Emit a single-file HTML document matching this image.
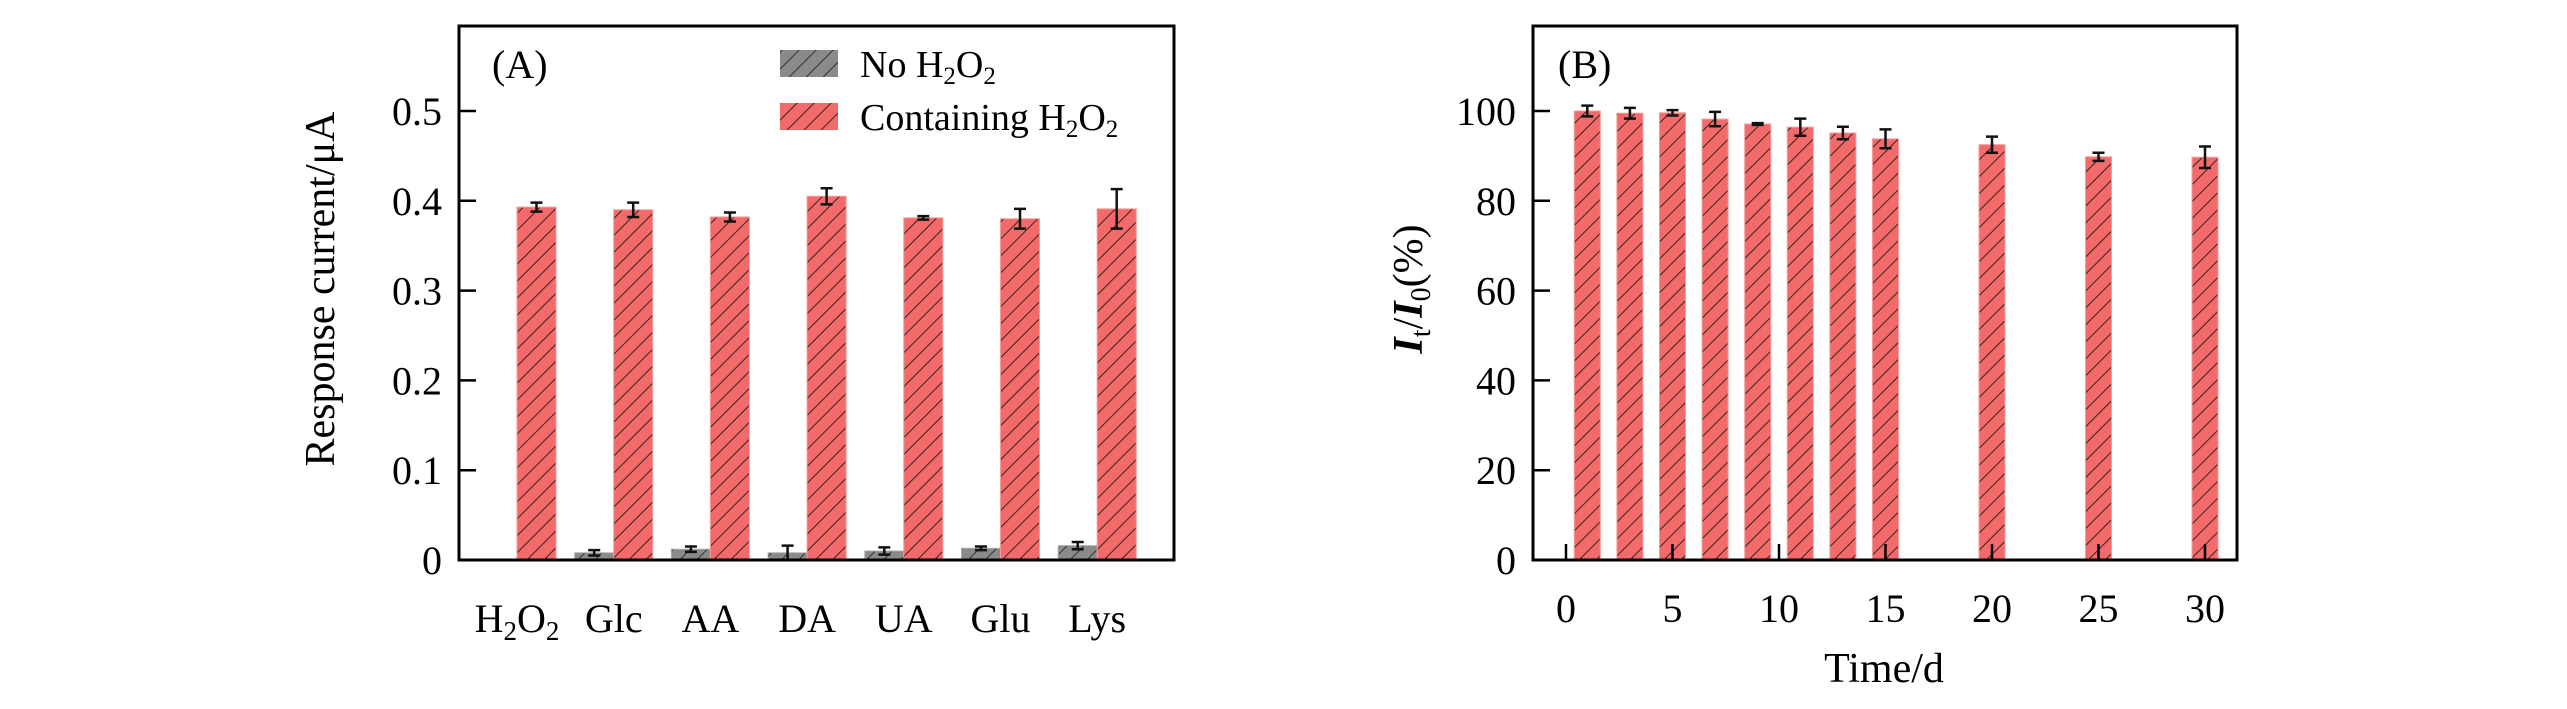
<!DOCTYPE html>
<html><head><meta charset="utf-8"><style>
html,body{margin:0;padding:0;background:#fff;}
svg{display:block;font-family:"Liberation Serif",serif;}
</style></head><body>
<svg id="fig" width="2567" height="709" viewBox="0 0 2567 709" xmlns="http://www.w3.org/2000/svg">
<defs>
<pattern id="hatchR" patternUnits="userSpaceOnUse" width="12" height="12" patternTransform="rotate(45)">
<rect width="12" height="12" fill="#f26a6a"/><line x1="0" y1="0" x2="0" y2="12" stroke="#3a2020" stroke-width="2"/></pattern>
<pattern id="hatchG" patternUnits="userSpaceOnUse" width="12" height="12" patternTransform="rotate(45)">
<rect width="12" height="12" fill="#8a8a8a"/><line x1="0" y1="0" x2="0" y2="12" stroke="#333" stroke-width="2"/></pattern>
</defs>
<g id="pa"></g>
<g id="pb"></g>
</svg>
<script>
const catsA = ["H2O2","Glc","AA","DA","UA","Glu","Lys"];
const redA = [0.393,0.390,0.382,0.405,0.381,0.380,0.391];
const redErrA = [0.005,0.008,0.005,0.009,0.002,0.011,0.022];
const grayA = [0,0.008,0.012,0.008,0.010,0.013,0.016];
const grayErrA = [0,0.003,0.003,0.008,0.004,0.002,0.004];
const ticksA = [0,0.1,0.2,0.3,0.4,0.5];
const tickLabelsA = ["0","0.1","0.2","0.3","0.4","0.5"];
const daysB = [1,3,5,7,9,11,13,15,20,25,30];
const valsB = [100,99.5,99.6,98.2,97.1,96.4,95.1,93.8,92.5,89.8,89.7];
const errB = [1.2,1.2,0.6,1.6,0.2,1.9,1.4,2.1,1.8,0.9,2.4];
const ticksBy = [0,20,40,60,80,100];
const ticksBx = [0,5,10,15,20,25,30];

const NS="http://www.w3.org/2000/svg";
function mk(p,tag,attrs,txt){const e=document.createElementNS(NS,tag);for(const k in attrs)e.setAttribute(k,attrs[k]);if(txt!==undefined)e.textContent=txt;p.appendChild(e);return e;}
function errbar(g,x,y1,y2){
  const e=mk(g,"path",{d:`M${x},${y1}V${y2}M${x-6},${y1}H${x+6}M${x-6},${y2}H${x+6}`,stroke:"#111","stroke-width":2.5,fill:"none"});
  
  
}
// Panel A
const pa=document.getElementById('pa');
const yA=v=>560-v*898;
const gx=i=>478+96.7*i;
const bw=39;
for(let i=0;i<catsA.length;i++){
  if(grayA[i]>0){
    const r=mk(pa,"rect",{x:gx(i),y:yA(grayA[i]),width:bw,height:560-yA(grayA[i]),fill:"url(#hatchG)",stroke:"#aaa","stroke-width":1});
    
    
    errbar(pa,gx(i)+bw/2,yA(grayA[i]+grayErrA[i]),yA(Math.max(0,grayA[i]-grayErrA[i])));
  }
  const r=mk(pa,"rect",{x:gx(i)+bw,y:yA(redA[i]),width:bw,height:560-yA(redA[i]),fill:"url(#hatchR)",stroke:"#f59a9a","stroke-width":1});
  
  
  errbar(pa,gx(i)+bw*1.5,yA(redA[i]+redErrA[i]),yA(redA[i]-redErrA[i]));
  const t=mk(pa,"text",{x:gx(i)+bw,y:632,"font-size":40,"text-anchor":"middle"});
  
  
  if(catsA[i]==="H2O2"){t.innerHTML='H<tspan font-size="27" dy="8">2</tspan><tspan dy="-8">O</tspan><tspan font-size="27" dy="8">2</tspan>';}
  else t.textContent=catsA[i];
}
ticksA.forEach((v,i)=>{
  const l=mk(pa,"line",{x1:459,x2:476,y1:yA(v),y2:yA(v),stroke:"#000","stroke-width":2.5});
  
  
  const t=mk(pa,"text",{x:442,y:yA(v)+14,"font-size":40,"text-anchor":"end"},tickLabelsA[i]);
  
  
});
const fa=mk(pa,"rect",{x:459,y:26,width:715,height:534,fill:"none",stroke:"#000","stroke-width":3});


const ta=mk(pa,"text",{x:0,y:0,"font-size":42,"text-anchor":"middle",transform:"translate(334,289) rotate(-90)"},"Response current/μA");


const la=mk(pa,"text",{x:492,y:78,"font-size":40},"(A)");


const lg1=mk(pa,"rect",{x:780,y:50,width:58,height:27,fill:"url(#hatchG)"});


const lt1=mk(pa,"text",{x:860,y:77,"font-size":38});
lt1.innerHTML='No H<tspan font-size="25" dy="7">2</tspan><tspan dy="-7">O</tspan><tspan font-size="25" dy="7">2</tspan>';


const lg2=mk(pa,"rect",{x:780,y:103,width:58,height:27,fill:"url(#hatchR)"});


const lt2=mk(pa,"text",{x:860,y:130,"font-size":38});
lt2.innerHTML='Containing H<tspan font-size="25" dy="7">2</tspan><tspan dy="-7">O</tspan><tspan font-size="25" dy="7">2</tspan>';



// Panel B
const pb=document.getElementById('pb');
const yB=v=>560-v*4.49;
const xB=d=>1566+d*21.3;
const bwB=26;
daysB.forEach((d,i)=>{
  const r=mk(pb,"rect",{x:xB(d)-bwB/2,y:yB(valsB[i]),width:bwB,height:560-yB(valsB[i]),fill:"url(#hatchR)",stroke:"#f59a9a","stroke-width":1});
  
  
  errbar(pb,xB(d),yB(valsB[i]+errB[i]),yB(valsB[i]-errB[i]));
});
ticksBy.forEach(v=>{
  const l=mk(pb,"line",{x1:1533,x2:1550,y1:yB(v),y2:yB(v),stroke:"#000","stroke-width":2.5});
  
  
  const t=mk(pb,"text",{x:1516,y:yB(v)+14,"font-size":40,"text-anchor":"end"},String(v));
  
  
});
ticksBx.forEach(v=>{
  const l=mk(pb,"line",{x1:xB(v),x2:xB(v),y1:560,y2:544,stroke:"#000","stroke-width":2.5});
  
  
  const t=mk(pb,"text",{x:xB(v),y:622,"font-size":40,"text-anchor":"middle"},String(v));
  
  
});
const fb=mk(pb,"rect",{x:1533,y:26,width:704,height:534,fill:"none",stroke:"#000","stroke-width":3});


const tb=mk(pb,"text",{x:0,y:0,"font-size":42,"text-anchor":"middle",transform:"translate(1422,289) rotate(-90)"});
tb.innerHTML='<tspan font-style="italic" font-weight="bold">I</tspan><tspan font-size="28" dy="8">t</tspan><tspan dy="-8">/</tspan><tspan font-style="italic" font-weight="bold">I</tspan><tspan font-size="28" dy="8">0</tspan><tspan dy="-8">(%)</tspan>';


const xt=mk(pb,"text",{x:1884,y:682,"font-size":42,"text-anchor":"middle"},"Time/d");


const lb=mk(pb,"text",{x:1558,y:78,"font-size":40},"(B)");


</script>
</body></html>
